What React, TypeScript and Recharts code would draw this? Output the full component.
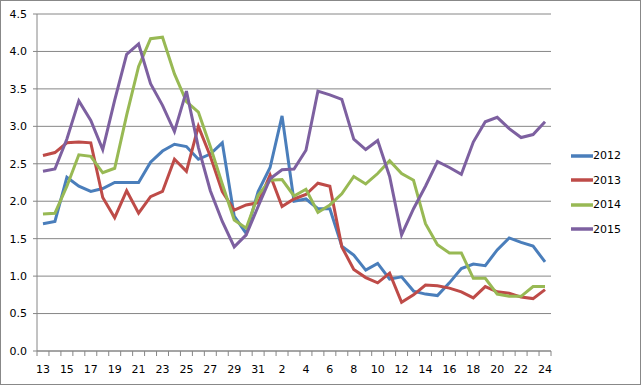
import { CartesianGrid, Legend, Line, LineChart, XAxis, YAxis } from 'recharts'

// week numbers: 13..31 then 1..24
const weeks = [
    '13', '14', '15', '16', '17', '18', '19', '20', '21', '22', '23', '24', '25', '26', '27', '28', '29', '30', '31',
    '1', '2', '3', '4', '5', '6', '7', '8', '9', '10', '11', '12', '13', '14', '15', '16', '17', '18', '19', '20',
    '21', '22', '23', '24',
]

const y2012 = [
    1.7, 1.73, 2.32, 2.2, 2.13, 2.17, 2.25, 2.25, 2.25, 2.52, 2.67, 2.76, 2.73, 2.56, 2.63, 2.78, 1.8, 1.57, 2.13,
    2.45, 3.14, 2.0, 2.03, 1.9, 1.9, 1.4, 1.28, 1.08, 1.17, 0.96, 0.99, 0.8, 0.76, 0.74, 0.91, 1.1, 1.16, 1.14, 1.35,
    1.51, 1.45, 1.4, 1.19,
]
const y2013 = [
    2.61, 2.65, 2.78, 2.79, 2.78, 2.05, 1.78, 2.14, 1.84, 2.06, 2.13, 2.56, 2.4, 3.0, 2.6, 2.13, 1.88, 1.95, 1.98,
    2.35, 1.93, 2.03, 2.09, 2.24, 2.2, 1.39, 1.09, 0.98, 0.91, 1.04, 0.65, 0.75, 0.88, 0.87, 0.84, 0.79, 0.71, 0.86,
    0.79, 0.77, 0.72, 0.7, 0.82,
]
const y2014 = [
    1.83, 1.84, 2.2, 2.62, 2.6, 2.38, 2.44, 3.15, 3.8, 4.17, 4.19, 3.7, 3.33, 3.19, 2.73, 2.23, 1.75, 1.64, 2.08,
    2.28, 2.29, 2.07, 2.16, 1.85, 1.95, 2.1, 2.33, 2.23, 2.37, 2.54, 2.37, 2.28, 1.7, 1.42, 1.31, 1.31, 0.97, 0.97,
    0.76, 0.73, 0.73, 0.86, 0.86,
]
const y2015 = [
    2.4, 2.43, 2.83, 3.34, 3.08, 2.69, 3.35, 3.96, 4.1, 3.57, 3.28, 2.93, 3.47, 2.72, 2.14, 1.73, 1.39, 1.55, 1.93,
    2.3, 2.42, 2.43, 2.68, 3.47, 3.42, 3.36, 2.83, 2.69, 2.81, 2.33, 1.55, 1.9, 2.2, 2.53, 2.45, 2.36, 2.79, 3.06,
    3.12, 2.97, 2.85, 2.89, 3.06,
]

const yTicks = [0, 0.5, 1, 1.5, 2, 2.5, 3, 3.5, 4, 4.5]

const data = weeks.map((week, i) => ({
    week,
    '2012': y2012[i],
    '2013': y2013[i],
    '2014': y2014[i],
    '2015': y2015[i],
}))

const series = [
    { key: '2012', color: '#4A7EBB' },
    { key: '2013', color: '#BE4B48' },
    { key: '2014', color: '#98B954' },
    { key: '2015', color: '#7D60A0' },
]

const FONT = '"DejaVu Sans", Verdana, sans-serif'
const AXIS = '#868686'
const PLOT_LEFT = 37
const PLOT_RIGHT = 551
const PLOT_BOTTOM = 351
const BAND = (PLOT_RIGHT - PLOT_LEFT) / weeks.length

// excel style: tick marks between categories, label on every other one
function WeekTick(props: any) {
    const { x, index, payload } = props
    const left = x - BAND / 2
    return (
        <g>
            <line x1={left} x2={left} y1={PLOT_BOTTOM} y2={PLOT_BOTTOM + 5} stroke={AXIS} />
            {index === weeks.length - 1 && (
                <line x1={x + BAND / 2} x2={x + BAND / 2} y1={PLOT_BOTTOM} y2={PLOT_BOTTOM + 5} stroke={AXIS} />
            )}
            {index % 2 === 0 && (
                <text x={x} y={PLOT_BOTTOM + 22} textAnchor="middle" fontSize={11} fontFamily={FONT} fill="#000">
                    {payload.value}
                </text>
            )}
        </g>
    )
}

function YearLegend(props: any) {
    const { payload } = props
    return (
        <div style={{ paddingLeft: 20 }}>
            {(payload || []).map((item: any) => (
                <div key={item.value} style={{ height: 24.4, display: 'flex', alignItems: 'center' }}>
                    <svg width={29} height={6} style={{ display: 'block' }}>
                        <line x1={0} x2={27} y1={3} y2={3} stroke={item.color} strokeWidth={3.5} />
                    </svg>
                    <span style={{ fontFamily: FONT, fontSize: 11, color: '#000' }}>{item.value}</span>
                </div>
            ))}
        </div>
    )
}

export default function App() {
    return (
        <div style={{ position: 'absolute', left: 0, top: 0, width: 641, height: 385, background: '#fff' }}>
            <LineChart width={641} height={385} data={data} margin={{ top: 14, right: 20, bottom: 0, left: 0 }}>
                <CartesianGrid vertical={false} stroke={AXIS} />
                <XAxis
                    dataKey="week"
                    height={34}
                    interval={0}
                    padding={{ left: BAND / 2, right: BAND / 2 }}
                    stroke={AXIS}
                    tickLine={false}
                    tick={<WeekTick />}
                />
                <YAxis
                    width={37}
                    domain={[0, 4.5]}
                    ticks={yTicks}
                    tickFormatter={(v: number) => v.toFixed(1)}
                    stroke={AXIS}
                    tickSize={4}
                    tickMargin={6}
                    tick={{ fontSize: 11, fontFamily: FONT, fill: '#000' }}
                />
                <Legend
                    layout="vertical"
                    align="right"
                    verticalAlign="middle"
                    width={70}
                    content={<YearLegend />}
                />
                {series.map((s) => (
                    <Line
                        key={s.key}
                        type="linear"
                        dataKey={s.key}
                        stroke={s.color}
                        strokeWidth={3}
                        dot={false}
                        isAnimationActive={false}
                    />
                ))}
            </LineChart>
            <div
                style={{
                    position: 'absolute',
                    inset: 0,
                    border: '1px solid #888',
                    pointerEvents: 'none',
                }}
            />
        </div>
    )
}
